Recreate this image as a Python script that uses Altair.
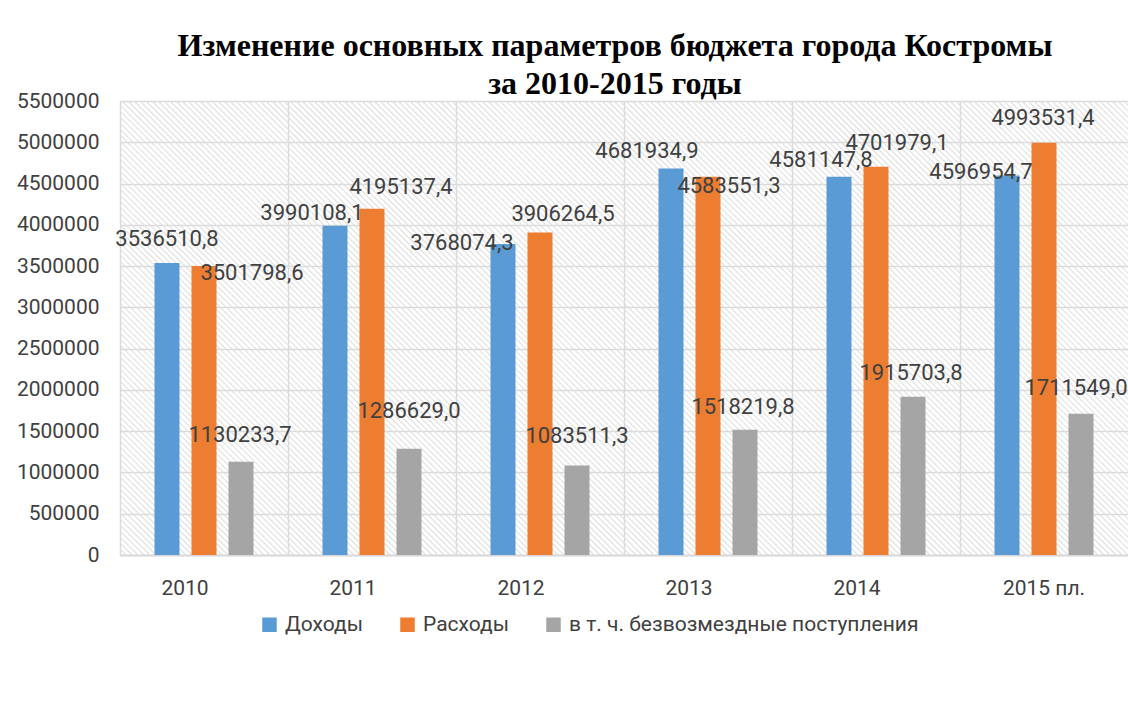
import altair as alt
import pandas as pd

years = ["2010", "2011", "2012", "2013", "2014", "2015 пл."]
series = ["Доходы", "Расходы", "в т. ч. безвозмездные поступления"]
income = [3536510.8, 3990108.1, 3768074.3, 4681934.9, 4581147.8, 4596954.7]
expense = [3501798.6, 4195137.4, 3906264.5, 4583551.3, 4701979.1, 4993531.4]
grants = [1130233.7, 1286629.0, 1083511.3, 1518219.8, 1915703.8, 1711549.0]
colors = ["#5b9bd5", "#ed7d31", "#a5a5a5"]
y_ticks = list(range(0, 5500001, 500000))

# manual data-label nudges (dx, dy in pixels), as placed in the original
label_nudges = {
    series[0]: [(0, -24), (-23, -13), (-41, -1), (-24, -18), (-18, -17), (-26, -4)],
    series[1]: [(48, 7), (29, -22), (23, -19), (21, 9), (21, -24), (-1, -25)],
    series[2]: [(-1, -27), (0, -38), (0, -30), (-2, -23), (-2, -24), (-5, -26)],
}

rows = []
for s, vals in zip(series, [income, expense, grants]):
    for y, v in zip(years, vals):
        rows.append({"year": y, "series": s, "value": v,
                     "label": f"{v:.1f}".replace(".", ",")})
df = pd.DataFrame(rows)

W, H = 1008, 454
FONT = "Roboto"
TXT = "#404040"

x_enc = alt.X("year:N", sort=years, title=None,
              scale=alt.Scale(paddingInner=0, paddingOuter=0),
              axis=alt.Axis(labelFont=FONT, labelFontSize=21, labelColor=TXT,
                            labelAngle=0, ticks=False, labelPadding=22,
                            domainColor="#d9d9d9", domainWidth=2,
                            grid=True, gridColor="#d9d9d9", gridWidth=1.5,
                            bandPosition=0,
                            labelOffset={"condition": {"test": "datum.value === '2015 пл.'", "value": 0},
                                         "value": -19}))
xo_enc = alt.XOffset("series:N", sort=series,
                     scale=alt.Scale(domain=series, paddingInner=0.324, paddingOuter=0.932))
y_enc = alt.Y("value:Q", title=None,
              scale=alt.Scale(domain=[0, 5500000], nice=False),
              axis=alt.Axis(values=y_ticks, format="d", labelFont=FONT, labelFontSize=21,
                            labelColor=TXT, ticks=False, domain=False, labelPadding=21,
                            gridColor="#d9d9d9", gridWidth=1.5))

base = alt.Chart(df)

bars = base.mark_bar().encode(
    x=x_enc, xOffset=xo_enc, y=y_enc,
    color=alt.Color("series:N", sort=series, title=None,
                    scale=alt.Scale(domain=series, range=colors),
                    legend=alt.Legend(orient="none", legendX=139, legendY=513,
                                      direction="horizontal", symbolType="square",
                                      symbolSize=210, symbolStrokeWidth=0,
                                      labelFont=FONT, labelFontSize=21, labelColor=TXT,
                                      columnPadding=34, labelOffset=5, labelLimit=500)),
)

texts = []
for s in series:
    for yr, (dx, dy) in zip(years, label_nudges[s]):
        texts.append(
            base.transform_filter(
                (alt.datum.series == s) & (alt.datum.year == yr)
            ).mark_text(
                font=FONT, fontSize=22, color=TXT, dx=dx, dy=dy, baseline="middle"
            ).encode(x=x_enc, xOffset=xo_enc, y=y_enc, text="label:N")
        )

main = alt.layer(bars, *texts)

hatch = alt.Chart(alt.sequence(-H, W, 6, as_="s")).transform_calculate(
    s2=f"datum.s + {H}", y0="0", y1=f"{H}"
).mark_rule(color="#e0e0e0", strokeWidth=1.2, clip=True).encode(
    x=alt.X("s:Q", scale=None, axis=None),
    x2="s2:Q",
    y=alt.Y("y0:Q", scale=None, axis=None),
    y2="y1:Q",
)

chart = alt.layer(hatch, main).resolve_scale(x="independent", y="independent").properties(
    width=W, height=H,
    autosize=alt.AutoSizeParams(type="none"),
    padding={"left": 120, "top": 101, "right": 0, "bottom": 715 - 101 - H},
    title=alt.TitleParams(
        text=["Изменение  основных параметров  бюджета города Костромы", "за 2010-2015 годы"],
        font="Liberation Serif", fontSize=32, fontWeight="bold", color="#000000",
        anchor="middle", frame="group", lineHeight=38, offset=6, dx=-9, dy=17,
    ),
).configure_view(stroke="#d9d9d9", strokeWidth=1.5).configure(background="white")

chart.save("out.html", embed_options={"renderer": "svg", "actions": False})
